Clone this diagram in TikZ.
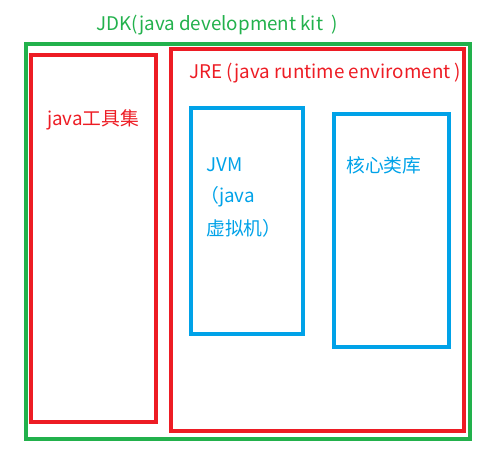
\documentclass[tikz,border=0pt]{standalone}
\usepackage{fontspec}
\newfontfamily\cjk{Noto Sans CJK SC}
\definecolor{pgreen}{RGB}{34,177,76}
\definecolor{pred}{RGB}{237,28,36}
\definecolor{pblue}{RGB}{0,162,232}
\tikzset{
  box/.style={line width=3.2pt},
  lbl/.style={font=\cjk\fontsize{18.8}{22}\selectfont, inner sep=0pt, anchor=west}
}
\begin{document}
\begin{tikzpicture}[x=1pt,y=-1pt]
\useasboundingbox (0,0) rectangle (497,453);
\draw[box,pgreen] (26,44) rectangle (470,439);
\draw[box,pred] (31,55) rectangle (156,422);
\draw[box,pred] (171,49) rectangle (464,431);
\draw[box,pblue] (191,108) rectangle (303,334);
\draw[box,pblue] (334,114) rectangle (449,347);
\node[lbl,text=pgreen] (jdk) at (96,25) {JDK(java development kit\ \ )};
\node[lbl,text=pred] (jre) at (189,73) {JRE (java runtime enviroment )};
\node[lbl,text=pred] (tools) at (47,120) {java工具集};
\node[lbl,text=pblue] (jvm) at (206,165) {JVM};
\node[lbl,text=pblue] (jvm2) at (200,197) {（java};
\node[lbl,text=pblue] (jvm3) at (206,228) {虚拟机）};
\node[lbl,text=pblue] (core) at (346,165) {核心类库};
\end{tikzpicture}
\end{document}
